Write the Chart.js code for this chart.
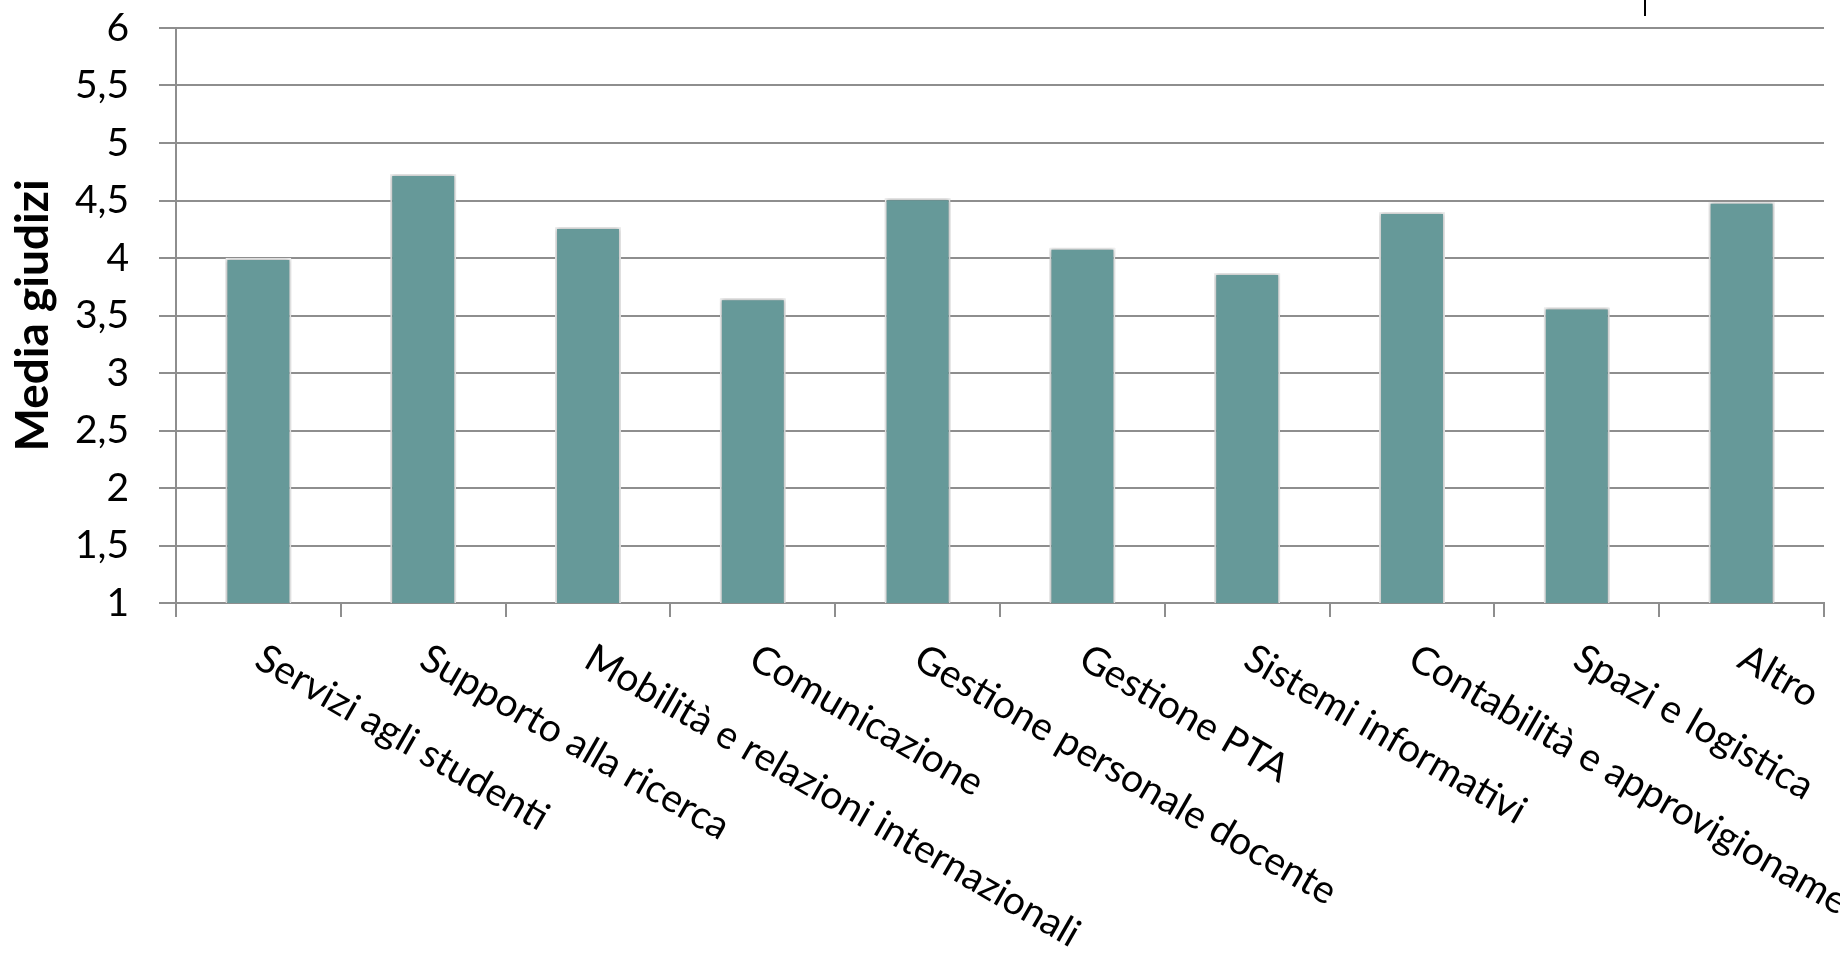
<!DOCTYPE html>
<html>
<head>
<meta charset="utf-8">
<script src="https://cdn.jsdelivr.net/npm/chart.js@4.4.1/dist/chart.umd.min.js"></script>
<style>
  html, body { margin: 0; padding: 0; background: #ffffff; }
  #wrap { width: 1840px; height: 954px; }
</style>
</head>
<body>
<div id="wrap"><canvas id="giudiziChart" width="1840" height="954"></canvas></div>
<script>
// ---------------- data ----------------
const categories = [
  'Servizi agli studenti',
  'Supporto alla ricerca',
  'Mobilità e relazioni internazionali',
  'Comunicazione',
  'Gestione personale docente',
  'Gestione PTA',
  'Sistemi informativi',
  'Contabilità e approvigionamenti',
  'Spazi e logistica',
  'Altro'
];

const mediaGiudizi = [4.0, 4.73, 4.27, 3.65, 4.52, 4.09, 3.87, 4.40, 3.57, 4.49];

const yTickValues = [1, 1.5, 2, 2.5, 3, 3.5, 4, 4.5, 5, 5.5, 6];
const yTickLabels = ['1', '1,5', '2', '2,5', '3', '3,5', '4', '4,5', '5', '5,5', '6'];

// ---------------- styles ----------------
const barColor = '#669999';
const gridColor = '#8e8e8e';
const labelFont = 'Lato, "Open Sans", sans-serif';

// soft shadow under the bars
const barShadow = {
  id: 'barShadow',
  beforeDatasetsDraw(chart) {
    const ctx = chart.ctx;
    ctx.save();
    ctx.shadowColor = 'rgba(0,0,0,0.35)';
    ctx.shadowBlur = 4;
    ctx.shadowOffsetX = 0;
    ctx.shadowOffsetY = 0;
  },
  afterDatasetsDraw(chart) {
    chart.ctx.restore();
  }
};

// category labels rotated clockwise, starting at the tick
const rotatedLabels = {
  id: 'rotatedLabels',
  afterDraw(chart) {
    const ctx = chart.ctx;
    const xScale = chart.scales.x;
    ctx.save();
    ctx.font = '39px ' + labelFont;
    ctx.fillStyle = '#000000';
    ctx.textAlign = 'left';
    ctx.textBaseline = 'alphabetic';
    categories.forEach((label, i) => {
      const x = xScale.getPixelForValue(i);
      ctx.save();
      ctx.translate(x - 6, xScale.top + 63);
      ctx.rotate(30 * Math.PI / 180);
      ctx.fillText(label, 0, 0);
      ctx.restore();
    });
    // little stray stroke at the top right of the original picture
    ctx.strokeStyle = '#000000';
    ctx.lineWidth = 2;
    ctx.beginPath();
    ctx.moveTo(1645, 0);
    ctx.lineTo(1645, 16);
    ctx.stroke();
    ctx.restore();
  }
};

const ctx = document.getElementById('giudiziChart').getContext('2d');

const config = {
  type: 'bar',
  data: {
    labels: categories,
    datasets: [{
      data: mediaGiudizi,
      backgroundColor: barColor,
      borderColor: '#f4f4f4',
      borderWidth: 2,
      barPercentage: 0.4,
      categoryPercentage: 1.0
    }]
  },
  options: {
    responsive: false,
    animation: false,
    devicePixelRatio: 1,
    layout: {
      padding: { top: 28, right: 16, left: 0, bottom: 0 }
    },
    plugins: {
      legend: { display: false },
      tooltip: { enabled: false },
      title: { display: false }
    },
    scales: {
      x: {
        offset: true,
        grid: {
          display: true,
          offset: true,
          drawOnChartArea: false,
          drawTicks: true,
          tickLength: 14,
          color: gridColor,
          lineWidth: 2
        },
        border: { display: true, color: gridColor, width: 2 },
        ticks: { display: false },
        afterFit(scale) { scale.height = 351; }
      },
      y: {
        min: 1,
        max: 6,
        afterBuildTicks(scale) {
          scale.ticks = yTickValues.map(v => ({ value: v }));
        },
        grid: {
          color: gridColor,
          lineWidth: 2,
          drawTicks: true,
          tickLength: 17
        },
        border: { display: true, color: gridColor, width: 2 },
        ticks: {
          padding: 30,
          color: '#000000',
          font: { family: labelFont, size: 39 },
          callback: (value) => yTickLabels[yTickValues.indexOf(value)]
        },
        title: {
          display: true,
          text: 'Media giudizi',
          color: '#000000',
          font: { family: labelFont, size: 46, weight: 'bold' },
          padding: { top: 6, bottom: 0 }
        },
        afterFit(scale) {
          scale.width = 176;
          scale.paddingTop = 0;
          scale.paddingBottom = 0;
        }
      }
    }
  },
  plugins: [barShadow, rotatedLabels]
};

const giudiziChart = new Chart(ctx, config);
</script>
</body>
</html>
